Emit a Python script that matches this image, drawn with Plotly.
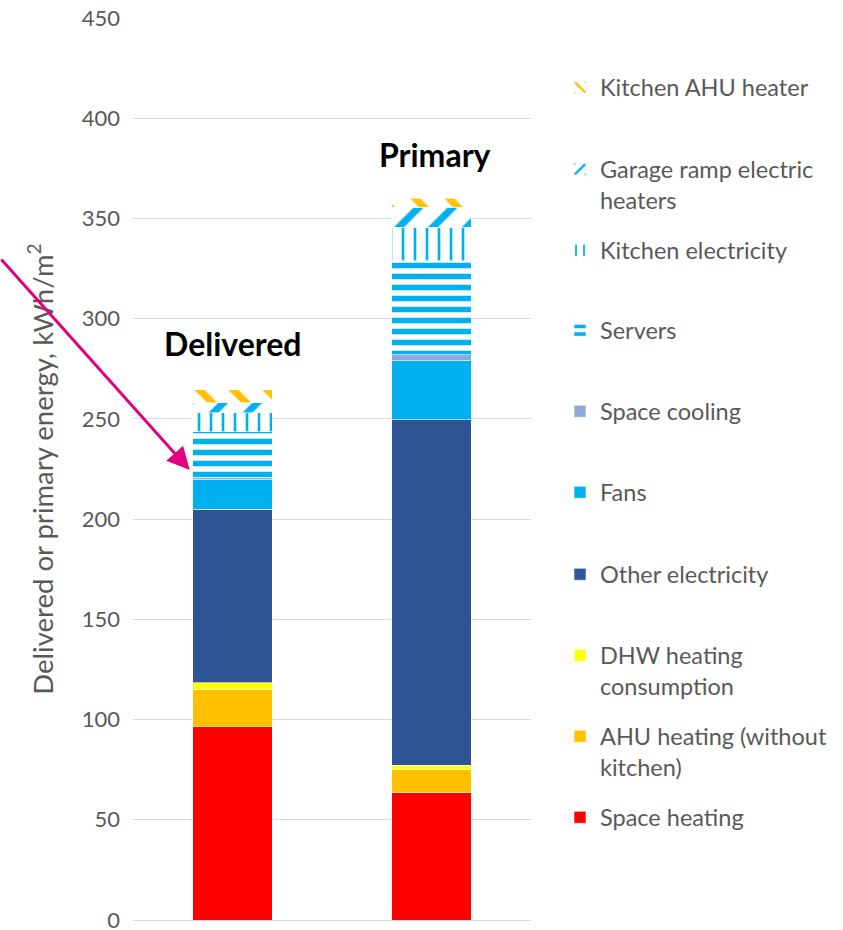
import plotly.graph_objects as go

# Stacked energy breakdown, kWh/m2
categories = ["Delivered", "Primary"]
space_heating = [96.5, 63.5]
ahu_heating = [18.3, 11.4]
dhw_heating = [3.6, 2.4]
other_electricity = [86.5, 172.2]
fans = [14.7, 29.4]
space_cooling = [1.0, 3.0]
servers = [23.0, 46.9]
kitchen_electricity = [9.4, 16.9]
garage_ramp = [5.1, 10.0]
kitchen_ahu = [6.4, 4.4]

series_names = [
    "Space heating",
    "AHU heating (without<br>kitchen)",
    "DHW heating<br>consumption",
    "Other electricity",
    "Fans",
    "Space cooling",
    "Servers",
    "Kitchen electricity",
    "Garage ramp electric<br>heaters",
    "Kitchen AHU heater",
]
series_values = [
    space_heating, ahu_heating, dhw_heating, other_electricity, fans,
    space_cooling, servers, kitchen_electricity, garage_ramp, kitchen_ahu,
]

BLUE = "#00B0F0"
ORANGE = "#FFC000"


def hatch(shape, color, size, solidity):
    return dict(color="white",
                pattern=dict(shape=shape, fgcolor=color, bgcolor="white",
                             fgopacity=1, size=size, solidity=solidity))


styles = [
    dict(color="#FF0000"),
    dict(color=ORANGE),
    dict(color="#FFFF00"),
    dict(color="#2F5597"),
    dict(color=BLUE),
    dict(color="#8EA9DB"),
    hatch("-", BLUE, 11, 0.5),
    hatch("|", BLUE, 12, 0.22),
    hatch("/", BLUE, 24, 0.3),
    hatch("\\", ORANGE, 24, 0.3),
]

# vertical pixel position of each legend entry's first line (top = 0)
legend_rows = [818, 737, 656, 575, 493, 412, 331, 251, 170, 88]

W, H = 843, 930
M_L, M_R, M_T, M_B = 133, 312, 18, 10
plot_w = W - M_L - M_R
plot_h = H - M_T - M_B

FONT = "Lato"
GREY = "#595959"

fig = go.Figure()
layout_legends = {}
for i, (name, vals, st, row) in enumerate(zip(series_names, series_values, styles, legend_rows)):
    key = "legend" if i == 0 else f"legend{i + 1}"
    marker = dict(st)
    marker["line"] = dict(color="white", width=0.6)
    fig.add_trace(go.Bar(
        x=categories, y=vals, name=name, marker=marker, width=0.4,
        legend=key, showlegend=True,
    ))
    layout_legends[key] = dict(
        x=(560 - M_L) / plot_w, xanchor="left",
        y=(H - M_B - row + 22.5) / plot_h, yanchor="top",
        bgcolor="rgba(0,0,0,0)", borderwidth=0,
        font=dict(family=FONT, size=23.5, color=GREY),
        valign="top",
    )

fig.update_layout(
    width=W, height=H,
    margin=dict(l=M_L, r=M_R, t=M_T, b=M_B, autoexpand=False),
    barmode="stack",
    plot_bgcolor="white", paper_bgcolor="white",
    font=dict(family=FONT, color=GREY),
    **layout_legends,
)
fig.update_xaxes(showticklabels=False, showgrid=False, zeroline=False,
                 showline=False, range=[-0.5, 1.5])
fig.update_yaxes(
    range=[0, 450], dtick=50, showgrid=True, gridcolor="#D9D9D9", gridwidth=1.3,
    zeroline=True, zerolinecolor="#D9D9D9", zerolinewidth=1.3,
    tickfont=dict(family=FONT, size=22, color=GREY), ticklabelstandoff=12,
    ticklabeloverflow="allow",
    title=dict(text="Delivered or primary energy, kWh/m<sup>2</sup>",
               font=dict(family=FONT, size=27.5, color=GREY), standoff=20),
)

fig.add_annotation(x=0, y=287.5, xref="x", yref="y", text="<b>Delivered</b>",
                   showarrow=False, font=dict(family=FONT, size=32, color="black"))
fig.add_annotation(x=1.02, y=382, xref="x", yref="y", text="<b>Primary</b>",
                   showarrow=False, font=dict(family=FONT, size=32, color="black"))
fig.add_annotation(x=-0.215, y=224.5, xref="x", yref="y", text="",
                   showarrow=True, ax=-190, ay=-212, arrowcolor="#E4007C",
                   arrowwidth=3, arrowhead=2, arrowsize=1.5)

fig.write_html("out.html")
